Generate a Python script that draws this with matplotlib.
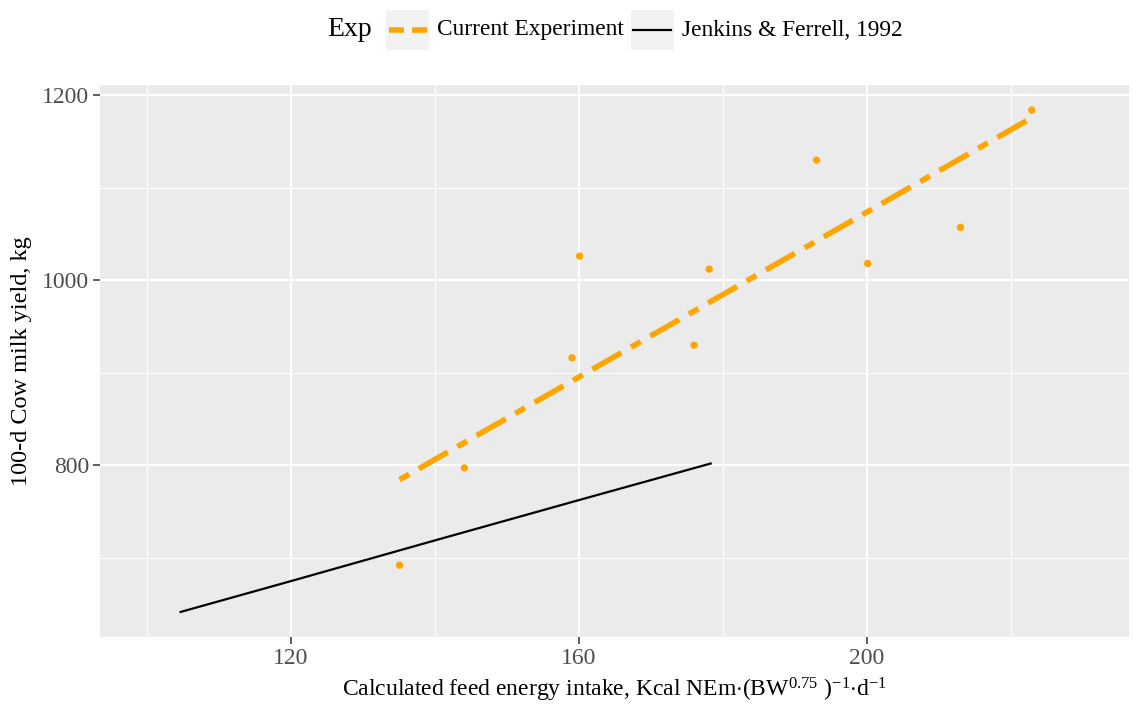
import numpy as np
import matplotlib
matplotlib.use("Agg")
import matplotlib.pyplot as plt
from matplotlib.patches import Rectangle
from matplotlib.lines import Line2D

plt.rcParams['font.family'] = ['Liberation Serif', 'DejaVu Serif']
plt.rcParams['mathtext.fontset'] = 'custom'
plt.rcParams['mathtext.rm'] = 'Liberation Serif'
plt.rcParams['mathtext.it'] = 'Liberation Serif:italic'

# current experiment: feed energy intake vs 100-d milk yield
intake = [135.1, 144.1, 159.05, 160.1, 176.0, 178.1, 193.0, 200.1, 213.0, 222.9]
milk = [691.9, 797.1, 916.0, 1026.0, 929.7, 1011.9, 1129.7, 1018.0, 1057.0, 1183.8]

# Jenkins & Ferrell (1992) reference curve
jf_intake = [104.7, 120.1, 140.1, 160.3, 178.3]
jf_milk = [641.4, 674.9, 718.9, 762.9, 801.8]

x_major = [120, 160, 200]
x_minor = [100, 140, 180, 220]
y_major = [800, 1000, 1200]
y_minor = [700, 900, 1100]

ORANGE = "#FFA500"
PANEL = "#EBEBEB"
KEY = "#F2F2F2"
W, H = 1133, 708

fig = plt.figure(figsize=(W / 100, H / 100), dpi=100)
ax = fig.add_axes([100 / W, 1 - 637 / H, 1029 / W, 552 / H])
ax.set_facecolor(PANEL)
for s in ax.spines.values():
    s.set_visible(False)

ax.set_xlim(93.5, 236.4)
ax.set_ylim(614.3, 1210.9)
ax.set_xticks(x_major)
ax.set_xticks(x_minor, minor=True)
ax.set_yticks(y_major)
ax.set_yticks(y_minor, minor=True)
ax.grid(which='major', color='white', lw=1.5)
ax.grid(which='minor', color='white', lw=0.75)
ax.set_axisbelow(True)
ax.tick_params(which='major', length=5, width=1.1, color='#333333',
               labelsize=17, labelcolor='#4D4D4D', pad=3)
ax.tick_params(which='minor', length=0)

# fitted line through the experiment points
coef = np.polyfit(intake, milk, 1)
fx = np.array([min(intake), max(intake)])
ax.plot(fx, np.polyval(coef, fx), color=ORANGE, lw=4, dashes=(2, 2, 6, 2),
        solid_capstyle='butt', dash_capstyle='butt', zorder=3)
ax.plot(jf_intake, jf_milk, color='black', lw=1.6, zorder=3)
ax.scatter(intake, milk, s=28, color=ORANGE, edgecolors='none', zorder=4)

ax.set_xlabel(r"Calculated feed energy intake, Kcal NEm$\cdot$(BW$^{0.75}$ )$^{-1}$$\cdot$d$^{-1}$",
              fontsize=17, labelpad=5)
ax.set_ylabel("100-d Cow milk yield, kg", fontsize=17.5, labelpad=7)


# legend drawn in pixel coordinates of the figure
def fx_(px):
    return px / W


def fy_(py):
    return 1 - py / H


fig.text(fx_(327), fy_(30), "Exp", fontsize=20, va='center', ha='left')
for left in (386, 631):
    fig.add_artist(Rectangle((fx_(left), fy_(50)), 43 / W, 40 / H,
                             transform=fig.transFigure, facecolor=KEY,
                             edgecolor='none'))
fig.add_artist(Line2D([fx_(389), fx_(427)], [fy_(30), fy_(30)],
                      transform=fig.transFigure, color=ORANGE, lw=4,
                      dashes=(2.7, 1.45), dash_capstyle='butt'))
fig.add_artist(Line2D([fx_(633), fx_(671)], [fy_(30), fy_(30)],
                      transform=fig.transFigure, color='black', lw=1.6))
fig.text(fx_(437), fy_(30), "Current Experiment", fontsize=16.8, va='center', ha='left')
fig.text(fx_(682), fy_(30), "Jenkins & Ferrell, 1992", fontsize=16.8, va='center', ha='left')

fig.savefig("out.png", dpi=100)
